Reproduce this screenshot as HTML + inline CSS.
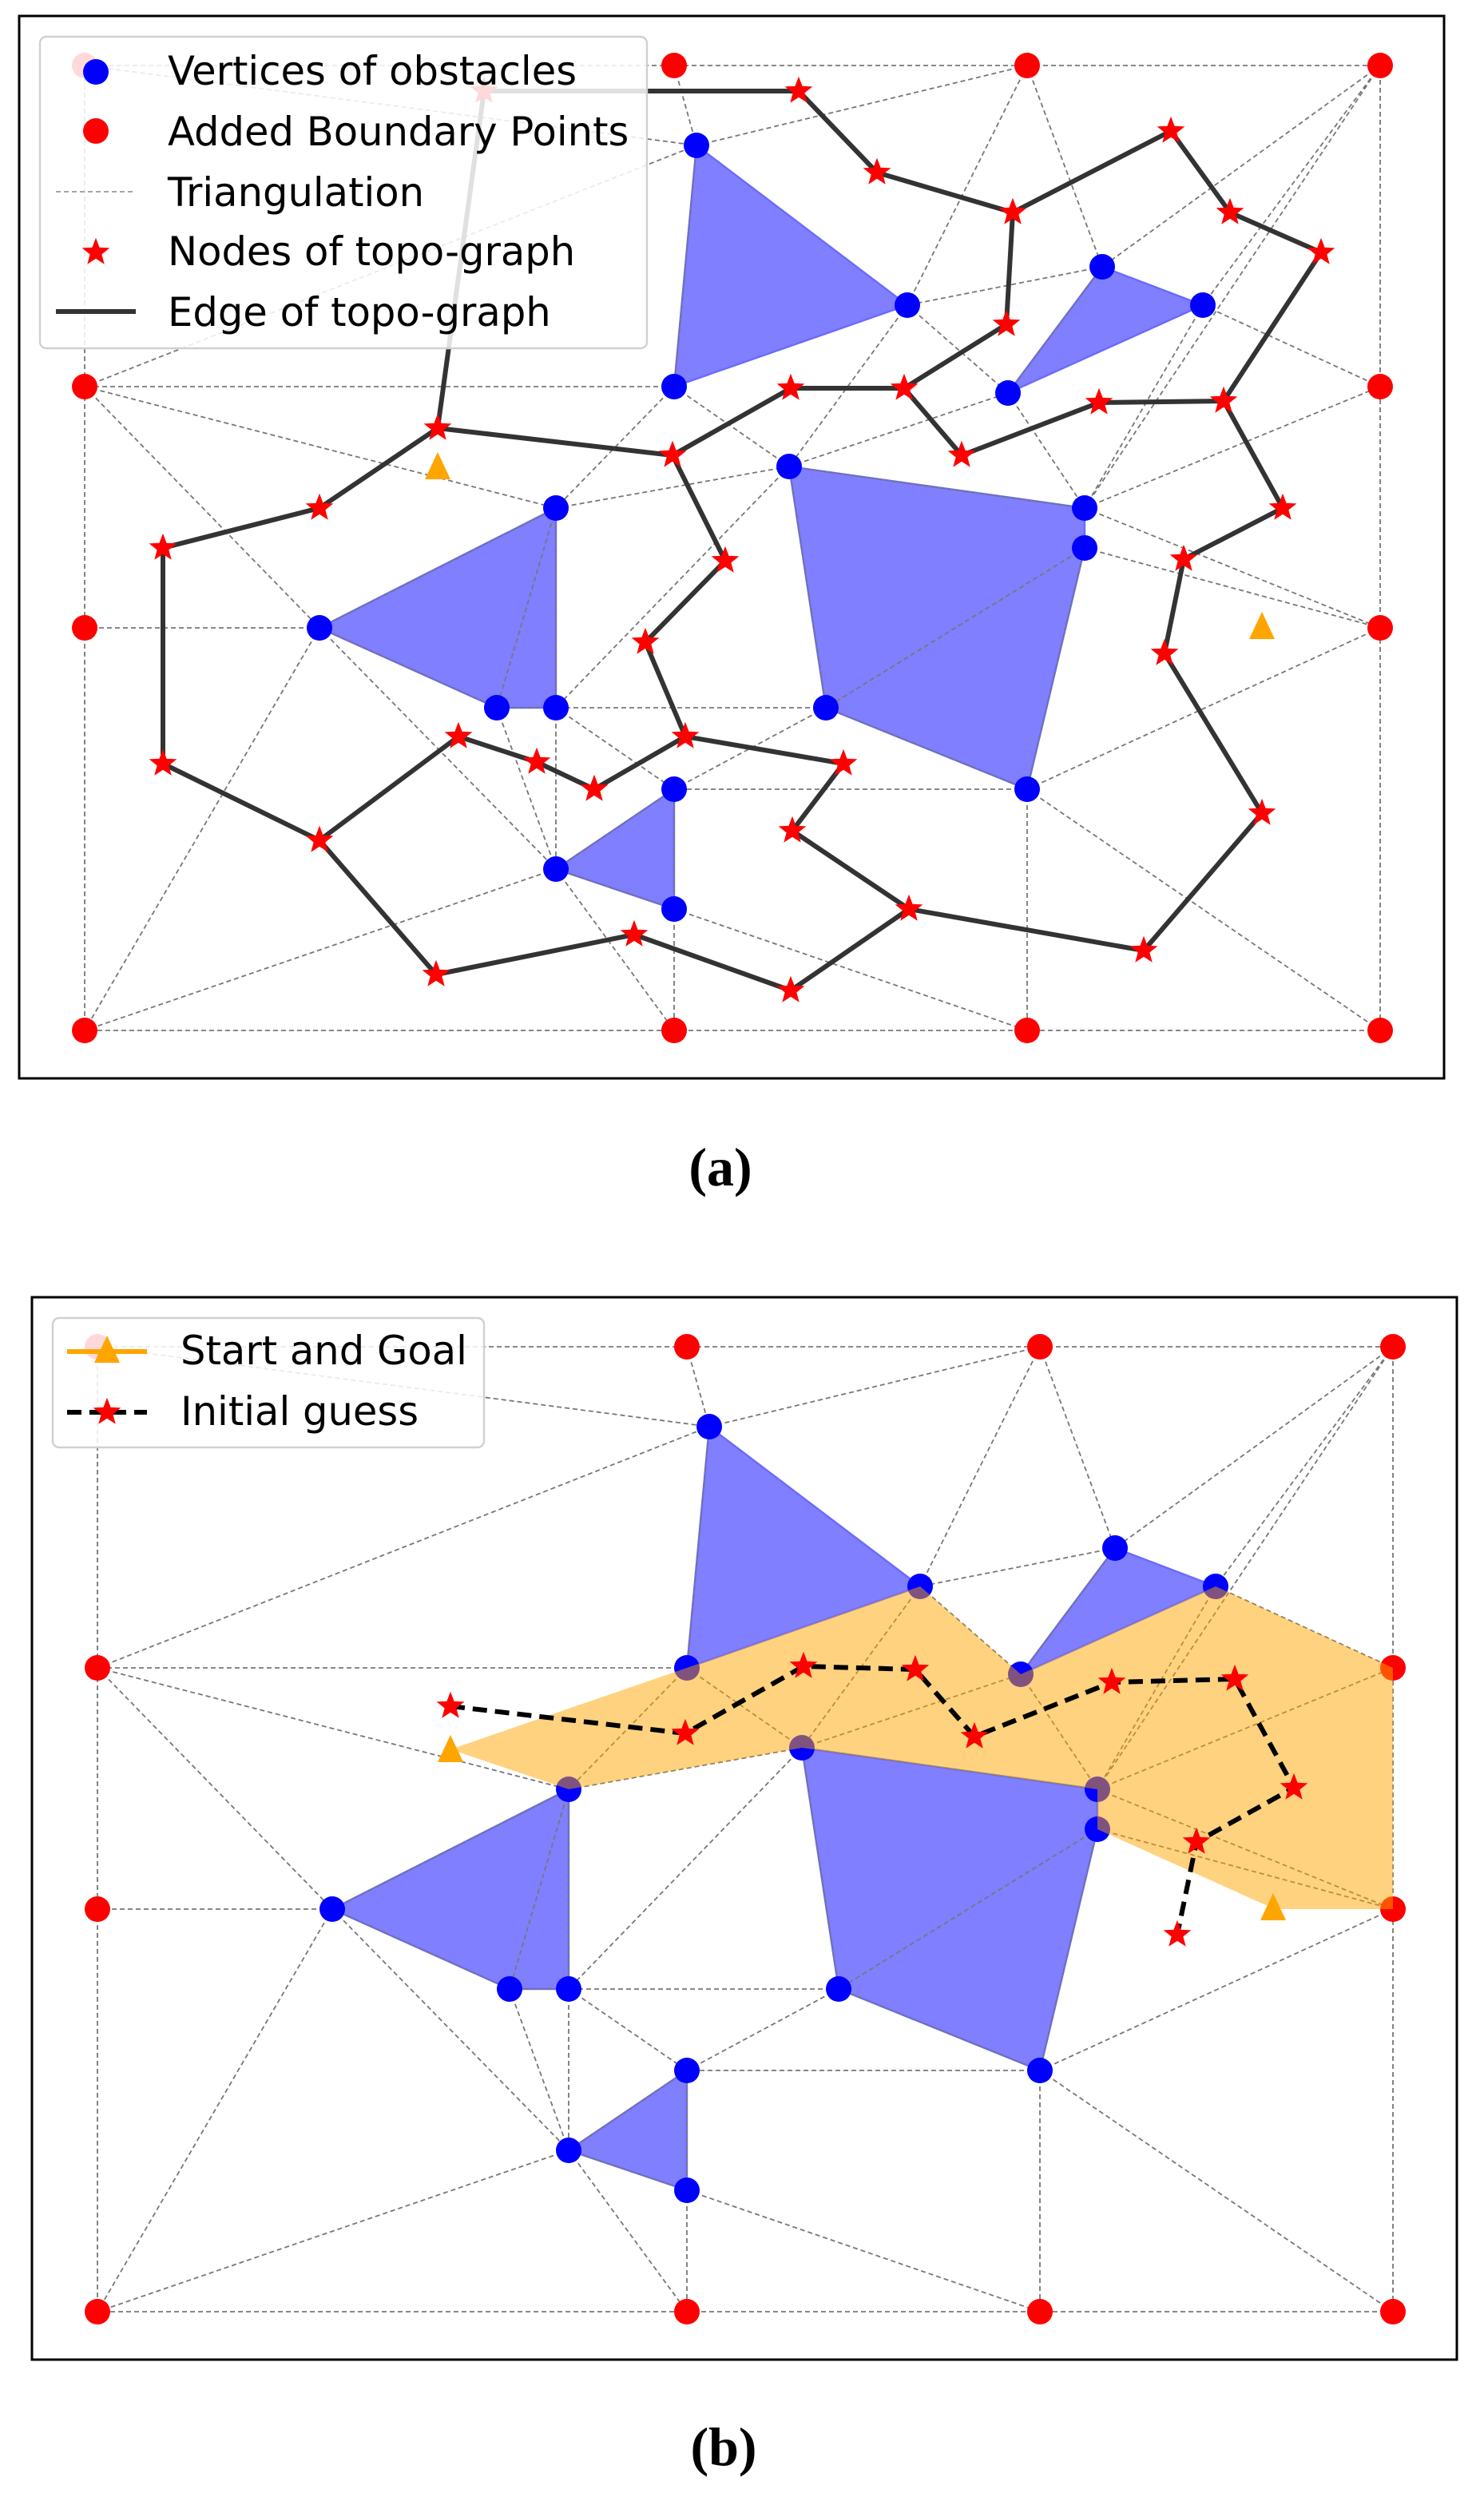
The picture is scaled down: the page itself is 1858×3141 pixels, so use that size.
<!DOCTYPE html>
<html><head><meta charset="utf-8"><style>
html,body{margin:0;padding:0;background:#fff;}
svg{display:block;}
text{font-family:"DejaVu Sans","Liberation Sans",sans-serif;}
</style></head><body>
<svg width="1858" height="3141" viewBox="0 0 929 1570.5" xmlns="http://www.w3.org/2000/svg">
<defs>
<polygon id="st" points="0,-8 2,-2.75 7.61,-2.47 3.23,1.05 4.7,6.47 0,3.4 -4.7,6.47 -3.23,1.05 -7.61,-2.47 -2,-2.75" fill="#ff0000" stroke="#ff0000" stroke-width="0.8"/>
<g id="base">
 <g fill="#7f7fff" stroke="#6a6aff" stroke-width="1.2">
  <polygon points="436,91 568,191 422,242"/>
  <polygon points="690,167 753,191 631,246"/>
  <polygon points="494,292 679,318 679,343 643,494 517,443"/>
  <polygon points="348,318 200,393 311,443 348,443"/>
  <polygon points="422,494 348,544 422,569"/>
 </g>
 <path fill="none" stroke="#777" stroke-width="0.9" stroke-dasharray="3,2" d="
 M53,41L422,41L643,41L864,41L864,242L864,393L864,645L643,645L422,645L53,645L53,393L53,242L53,41
 M53,41L436,91 M53,242L436,91 M422,41L436,91 M436,91L643,41 M436,91L422,242
 M643,41L568,191 M643,41L690,167 M864,41L690,167 M864,41L753,191 M864,41L679,318
 M690,167L568,191 M690,167L631,246 M568,191L631,246 M568,191L494,292 M422,242L494,292
 M422,242L348,318 M422,242L53,242 M53,242L348,318 M53,242L200,393 M200,393L53,393 M200,393L348,318
 M200,393L311,443 M348,318L311,443 M348,318L348,443 M348,318L494,292 M494,292L348,443 M494,292L517,443
 M494,292L631,246 M494,292L679,318 M631,246L679,318 M753,191L679,318 M753,191L864,242 M679,318L864,242
 M679,343L864,393 M679,318L864,393 M679,343L517,443 M679,343L643,494 M643,494L864,393 M643,494L864,645
 M643,494L643,645 M643,494L517,443 M643,494L422,494 M517,443L422,494 M517,443L348,443 M348,443L422,494
 M348,443L348,544 M348,443L311,443 M311,443L348,544 M200,393L348,544 M200,393L53,645 M348,544L53,645
 M348,544L422,645 M348,544L422,494 M422,569L348,544 M422,569L422,494 M422,569L422,645 M422,569L643,645"/>
 <g fill="#0000ff">
  <circle cx="436" cy="91" r="8"/><circle cx="568" cy="191" r="8"/><circle cx="422" cy="242" r="8"/>
  <circle cx="690" cy="167" r="8"/><circle cx="753" cy="191" r="8"/><circle cx="631" cy="246" r="8"/>
  <circle cx="494" cy="292" r="8"/><circle cx="679" cy="318" r="8"/><circle cx="679" cy="343" r="8"/>
  <circle cx="643" cy="494" r="8"/><circle cx="517" cy="443" r="8"/><circle cx="348" cy="318" r="8"/>
  <circle cx="200" cy="393" r="8"/><circle cx="311" cy="443" r="8"/><circle cx="348" cy="443" r="8"/>
  <circle cx="422" cy="494" r="8"/><circle cx="348" cy="544" r="8"/><circle cx="422" cy="569" r="8"/>
 </g>
 <g fill="#ff0000">
  <circle cx="53" cy="41" r="8"/><circle cx="422" cy="41" r="8"/><circle cx="643" cy="41" r="8"/><circle cx="864" cy="41" r="8"/>
  <circle cx="53" cy="242" r="8"/><circle cx="864" cy="242" r="8"/><circle cx="53" cy="393" r="8"/><circle cx="864" cy="393" r="8"/>
  <circle cx="53" cy="645" r="8"/><circle cx="422" cy="645" r="8"/><circle cx="643" cy="645" r="8"/><circle cx="864" cy="645" r="8"/>
 </g>
</g>
</defs>

<rect x="12" y="10" width="892" height="665" fill="#fff" stroke="#000" stroke-width="1.5"/>
<use href="#base"/>
<g fill="none" stroke="#333" stroke-width="3" stroke-linejoin="round">
 <polyline points="303,57 500,57 549,108 634,133 733,82 770,133 827,158 766,251 688,252 602,285 566,243 495,243 421,285 274,268 200,318 102,343 102,478 200,526 273,610 397,585 495,620 569,569 716,595 790,509 729,409 741,350 803,318 766,251"/>
 <polyline points="634,133 630,203 566,243"/>
 <polyline points="274,268 303,57"/>
 <polyline points="421,285 454,351 404,402 429,461 528,478 496,520 569,569"/>
 <polyline points="429,461 372,494 336,477 287,461 200,526"/>
</g>
<g>
 <use href="#st" x="303" y="57"/><use href="#st" x="500" y="57"/><use href="#st" x="549" y="108"/><use href="#st" x="634" y="133"/>
 <use href="#st" x="733" y="82"/><use href="#st" x="770" y="133"/><use href="#st" x="827" y="158"/><use href="#st" x="766" y="251"/>
 <use href="#st" x="688" y="252"/><use href="#st" x="602" y="285"/><use href="#st" x="566" y="243"/><use href="#st" x="495" y="243"/>
 <use href="#st" x="421" y="285"/><use href="#st" x="274" y="268"/><use href="#st" x="200" y="318"/><use href="#st" x="102" y="343"/>
 <use href="#st" x="102" y="478"/><use href="#st" x="200" y="526"/><use href="#st" x="273" y="610"/><use href="#st" x="397" y="585"/>
 <use href="#st" x="495" y="620"/><use href="#st" x="569" y="569"/><use href="#st" x="716" y="595"/><use href="#st" x="790" y="509"/>
 <use href="#st" x="729" y="409"/><use href="#st" x="741" y="350"/><use href="#st" x="803" y="318"/><use href="#st" x="630" y="203"/>
 <use href="#st" x="454" y="351"/><use href="#st" x="404" y="402"/><use href="#st" x="429" y="461"/><use href="#st" x="528" y="478"/>
 <use href="#st" x="496" y="520"/><use href="#st" x="372" y="494"/><use href="#st" x="336" y="477"/><use href="#st" x="287" y="461"/>
</g>
<polygon points="274,283 266,300 282,300" fill="#ffa500"/>
<polygon points="790,383 782,400 798,400" fill="#ffa500"/>
<rect x="25" y="23" width="380" height="195" rx="4" fill="#fff" fill-opacity="0.85" stroke="#d0d0d0" stroke-width="1.2"/>
<circle cx="60" cy="45" r="8" fill="#0000ff"/>
<circle cx="60" cy="82" r="8" fill="#ff0000"/>
<line x1="35" y1="120" x2="85" y2="120" stroke="#888" stroke-width="0.8" stroke-dasharray="3,2"/>
<use href="#st" x="60" y="158"/>
<line x1="35" y1="195" x2="85" y2="195" stroke="#333" stroke-width="3"/>
<g font-size="24.8" fill="#000">
 <text x="105" y="53">Vertices of obstacles</text>
 <text x="105" y="91">Added Boundary Points</text>
 <text x="105" y="129">Triangulation</text>
 <text x="105" y="166">Nodes of topo-graph</text>
 <text x="105" y="204">Edge of topo-graph</text>
</g>
<text x="451" y="742" font-size="34" font-weight="bold" text-anchor="middle" style="font-family:'Liberation Serif',serif">(a)</text>

<rect x="20" y="812" width="892" height="665" fill="#fff" stroke="#000" stroke-width="1.5"/>
<g transform="translate(8,802)">
 <use href="#base"/>
 <polygon points="274,293 422,242 568,191 631,246 753,191 864,242 864,393 790,393 679,343 679,318 494,292 348,318" fill="#ffa500" fill-opacity="0.5"/>
 <polyline points="274,266 421,283 495,241 565,243 602,285 688,251 765,249 802,317 741,351 729,409" fill="none" stroke="#000" stroke-width="3" stroke-dasharray="9,5"/>
 <use href="#st" x="274" y="266"/><use href="#st" x="421" y="283"/><use href="#st" x="495" y="241"/><use href="#st" x="565" y="243"/>
 <use href="#st" x="602" y="285"/><use href="#st" x="688" y="251"/><use href="#st" x="765" y="249"/><use href="#st" x="802" y="317"/>
 <use href="#st" x="741" y="351"/><use href="#st" x="729" y="409"/>
 <polygon points="274,284 266,301 282,301" fill="#ffa500"/>
 <polygon points="789,383 781,400 797,400" fill="#ffa500"/>
</g>
<rect x="33" y="825" width="270" height="81" rx="4" fill="#fff" fill-opacity="0.85" stroke="#d0d0d0" stroke-width="1.2"/>
<line x1="42" y1="846" x2="92" y2="846" stroke="#ffa500" stroke-width="3"/>
<polygon points="67,836 59,853 75,853" fill="#ffa500"/>
<line x1="42" y1="884" x2="92" y2="884" stroke="#000" stroke-width="3" stroke-dasharray="9,5"/>
<use href="#st" x="67" y="884"/>
<g font-size="24.8" fill="#000">
 <text x="113" y="854">Start and Goal</text>
 <text x="113" y="892">Initial guess</text>
</g>
<text x="453" y="1543" font-size="34" font-weight="bold" text-anchor="middle" style="font-family:'Liberation Serif',serif">(b)</text>
</svg>
</body></html>
